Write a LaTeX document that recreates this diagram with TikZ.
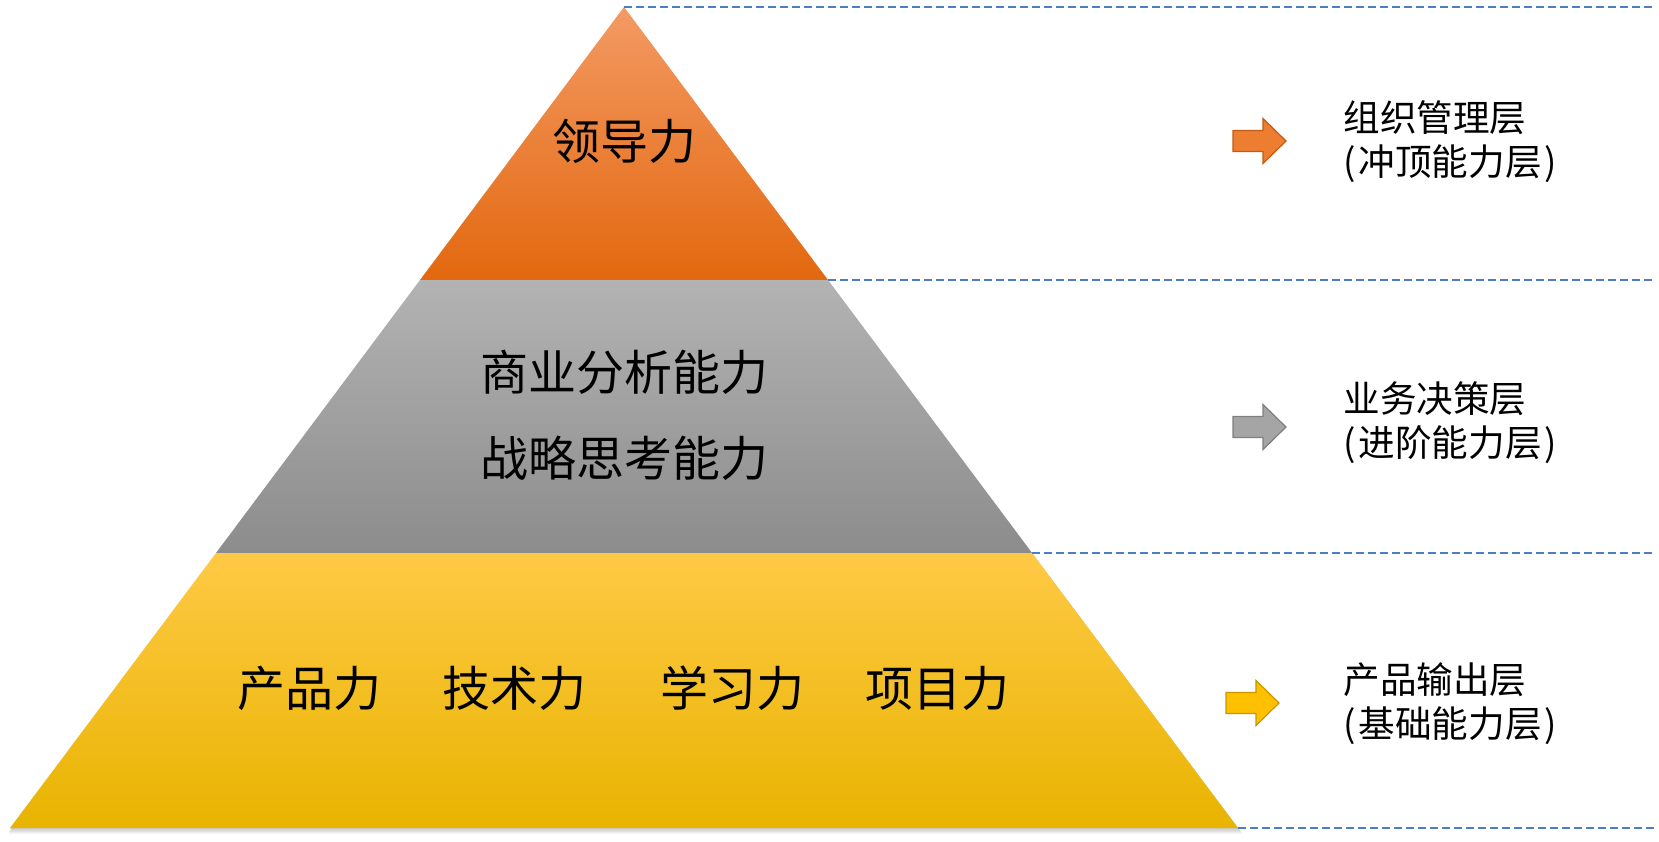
\documentclass[tikz,border=0pt]{standalone}
\usepackage{fontspec}
\setmainfont{Noto Sans CJK SC}
\definecolor{orTop}{HTML}{F39A63}
\definecolor{orBot}{HTML}{E3680F}
\definecolor{grTop}{HTML}{B3B3B3}
\definecolor{grBot}{HTML}{8C8C8C}
\definecolor{yeTop}{HTML}{FFC945}
\definecolor{yeMid}{HTML}{FFC800}
\definecolor{yeBot}{HTML}{E8B400}
\definecolor{dashblue}{HTML}{4A7EC9}
\definecolor{arrOr}{HTML}{ED7D31}
\definecolor{arrOrD}{HTML}{C55A11}
\definecolor{arrGr}{HTML}{A5A5A5}
\definecolor{arrGrD}{HTML}{7F7F7F}
\definecolor{arrYe}{HTML}{FFC000}
\definecolor{arrYeD}{HTML}{C99700}
\begin{document}
\begin{tikzpicture}[x=0.5pt,y=-0.5pt,
  lbl/.style={font=\fontsize{24pt}{29pt}\selectfont, text=black, inner sep=0},
  side/.style={font=\fontsize{18.3pt}{22pt}\selectfont, align=left, anchor=west, inner sep=0, text=black},
  guide/.style={draw=dashblue, dash pattern=on 4pt off 2pt, line width=0.6pt},
  shadowcopy/.style={fill=black, opacity=0.06},
  barrow/.pic={\path[pic actions] (0,-10.5) -- (30,-10.5) -- (30,-22.5) -- (53,0) -- (30,22.5) -- (30,10.5) -- (0,10.5) -- cycle;}
]
\useasboundingbox (0,0) rectangle (1659,841);
\coordinate (apex) at (624,7);
\coordinate (l1) at (420,280);
\coordinate (r1) at (828,280);
\coordinate (l2) at (216,553);
\coordinate (r2) at (1032,553);
\coordinate (l3) at (10,828);
\coordinate (r3) at (1238,828);
\coordinate (e0) at (1655,7);
\coordinate (e1) at (1655,280);
\coordinate (e2) at (1655,553);
\coordinate (e3) at (1655,828);
% soft shadow
\foreach \d in {1,2.5,4,5.5}{
  \fill[shadowcopy] ([shift={(\d*0.4,\d)}]apex) -- ([shift={(\d*0.8,\d)}]r3) -- ([shift={(-\d*0.3,\d)}]l3) -- cycle;
}
% tiers
\shade[top color=orTop, bottom color=orBot] (apex) -- (r1) -- (l1) -- cycle;
\shade[top color=grTop, bottom color=grBot] (l1) -- (r1) -- (r2) -- (l2) -- cycle;
\shade[top color=yeTop, middle color=yeMid, bottom color=yeBot] (l2) -- (r2) -- (r3) -- (l3) -- cycle;
% guides
\draw[guide] (apex) -- (e0);
\draw[guide] (r1) -- (e1);
\draw[guide] (r2) -- (e2);
\draw[guide] (r3) -- (e3);
% pyramid texts
\node[lbl] (lead) at (624,141) {领导力};
\node[lbl] (biz) at (624,372) {商业分析能力};
\node[lbl] (strat) at (624,458) {战略思考能力};
\node[lbl] (prod) at (309,688) {产品力};
\node[lbl] (tech) at (514,688) {技术力};
\node[lbl] (learn) at (732,688) {学习力};
\node[lbl] (proj) at (937,688) {项目力};
% arrows
\pic[fill=arrOr, draw=arrOrD, line width=0.6pt] (a1) at (1233,141) {barrow};
\pic[fill=arrGr, draw=arrGrD, line width=0.6pt] (a2) at (1233,427) {barrow};
\pic[fill=arrYe, draw=arrYeD, line width=0.6pt] (a3) at (1226,703) {barrow};
% side labels
\node[side] (s1) at (1343,142) {组织管理层\\(\kern1.5pt冲顶能力层\kern1.5pt)};
\node[side] (s2) at (1343,423) {业务决策层\\(\kern1.5pt进阶能力层\kern1.5pt)};
\node[side] (s3) at (1343,704) {产品输出层\\(\kern1.5pt基础能力层\kern1.5pt)};
\end{tikzpicture}
\end{document}
